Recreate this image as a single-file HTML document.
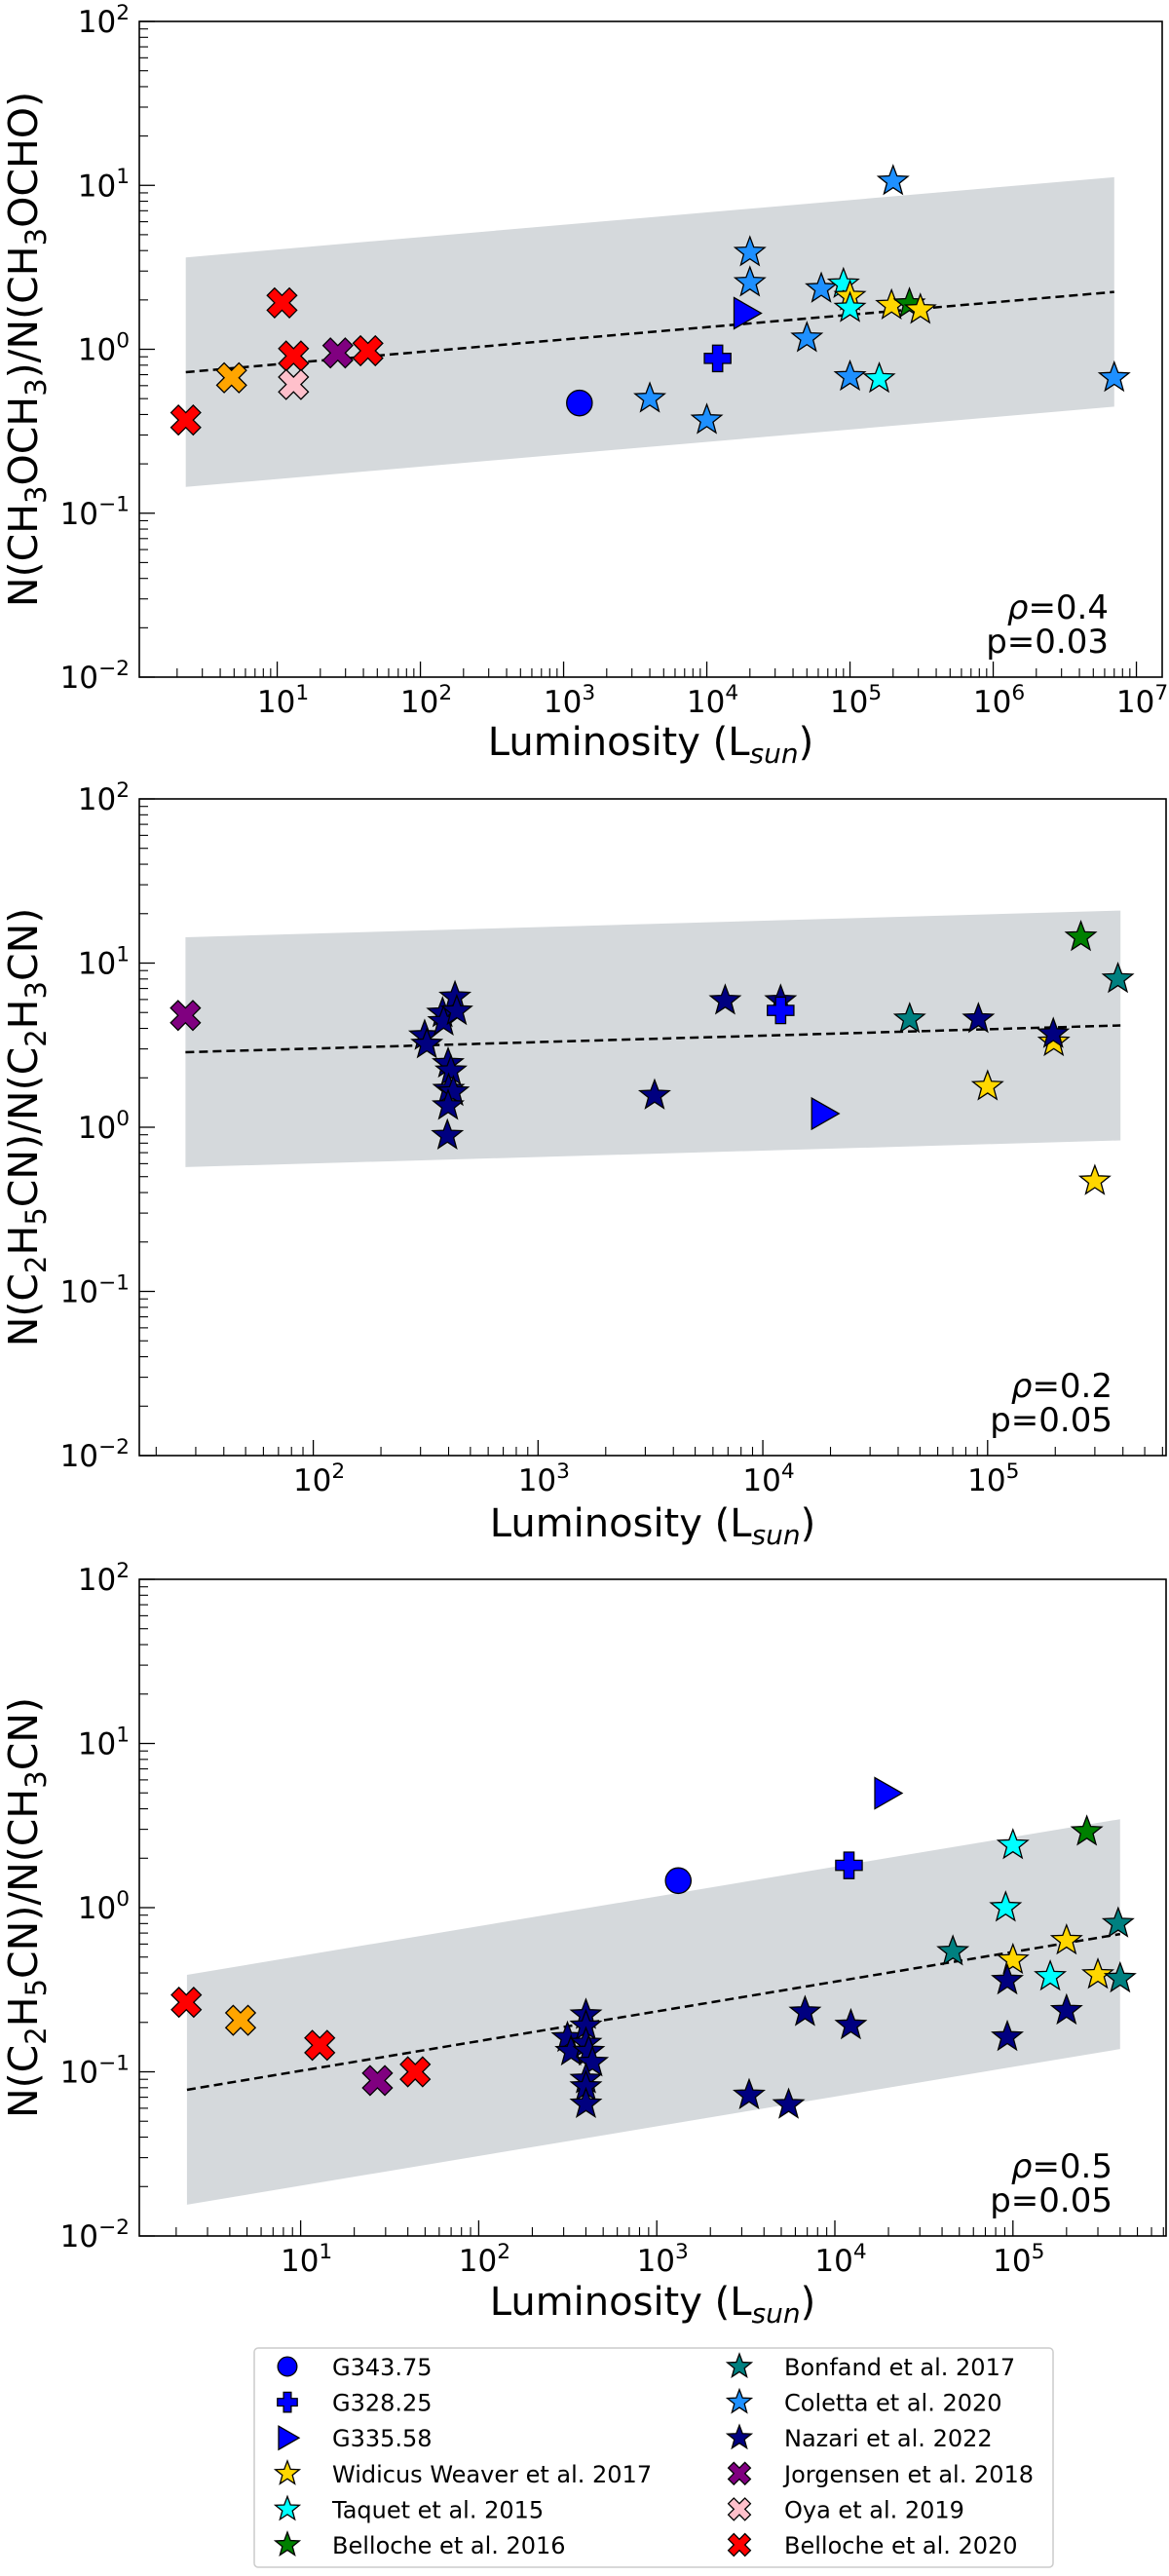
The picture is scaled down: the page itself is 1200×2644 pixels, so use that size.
<!DOCTYPE html>
<html><head><meta charset="utf-8">
<style>
html,body{margin:0;padding:0;background:#fff;}
svg{display:block;font-family:"DejaVu Sans","Liberation Sans",sans-serif;}
</style></head>
<body>
<svg id="fig" width="1200" height="2644" viewBox="0 0 1200 2644" xmlns="http://www.w3.org/2000/svg"></svg>
<script>
// ---------- Panel 1 data: N(CH3OCH3)/N(CH3OCHO) ----------
const p1Source = ["belloche20","other","belloche20","belloche20","oya","jorgensen","belloche20","g343","coletta","coletta","g328","g335","coletta","coletta","coletta","coletta","taquet","widicus","taquet","coletta","taquet","coletta","widicus","belloche16","widicus","coletta"];
const p1Lum    = [2.3,4.8,10.8,13,13,26.5,43,1290,4000,1e4,11900,18700,2e4,2e4,5e4,6.3e4,9e4,1e5,1e5,1e5,1.6e5,2e5,1.95e5,2.6e5,3.1e5,7e6];
const p1Ratio  = [0.37,0.67,1.92,0.91,0.61,0.95,0.98,0.47,0.50,0.37,0.88,1.66,3.9,2.55,1.17,2.34,2.5,2.1,1.78,0.68,0.66,10.6,1.85,1.89,1.74,0.67];
const p1Fit = [-0.167, 0.0755];
const p1FitRange = [2.3, 7e6];
const p1Stats = ["0.4","p=0.03"];

// ---------- Panel 2 data: N(C2H5CN)/N(C2H3CN) ----------
const p2Source = ["jorgensen","nazari","nazari","nazari","nazari","nazari","nazari","nazari","nazari","nazari","nazari","nazari","nazari","nazari","nazari","nazari","g328","g335","bonfand","nazari","widicus","widicus","nazari","belloche16","widicus","bonfand"];
const p2Lum    = [27,313,320,376,380,427,435,398,410,400,420,398,395,3300,6800,12000,12000,18600,45000,9.1e4,1e5,1.97e5,1.96e5,2.6e5,3e5,3.8e5];
const p2Ratio  = [4.8,3.6,3.2,4.95,4.4,6.2,5.1,2.44,2.2,1.7,1.64,1.35,0.89,1.56,5.9,5.9,5.15,1.21,4.56,4.56,1.77,3.3,3.7,14.4,0.47,8.0];
const p2Fit = [0.401, 0.0392];
const p2FitRange = [27, 3.9e5];
const p2Stats = ["0.2","p=0.05"];

// ---------- Panel 3 data: N(C2H5CN)/N(CH3CN) ----------
const p3Source = ["belloche20","other","belloche20","jorgensen","belloche20","g343","g328","g335","taquet","belloche16","taquet","bonfand","bonfand","widicus","widicus","taquet","widicus","bonfand","nazari","nazari","nazari","nazari","nazari","nazari","nazari","nazari","nazari","nazari","nazari","nazari","nazari","nazari","nazari","nazari","nazari"];
const p3Lum    = [2.28,4.6,12.8,27,44,1320,12000,19500,1e5,2.6e5,9.1e4,3.9e5,4.6e4,2e5,1e5,1.62e5,3e5,4e5,9.3e4,9.3e4,2e5,6800,12300,3300,5500,315,330,400,400,400,415,435,400,400,400];
const p3Ratio  = [0.265,0.206,0.145,0.0885,0.1,1.46,1.81,4.98,2.4,2.9,1.0,0.8,0.54,0.63,0.48,0.38,0.39,0.37,0.36,0.163,0.236,0.231,0.192,0.072,0.063,0.161,0.133,0.222,0.19,0.149,0.133,0.114,0.09,0.081,0.0636];
const p3Fit = [-1.175, 0.181];
const p3FitRange = [2.3, 4e5];
const p3Stats = ["0.5","p=0.05"];

const bandHalfWidth = 0.7; // dex

// ---------- Legend ----------
const legendLeft  = ["g343","g328","g335","widicus","taquet","belloche16"];
const legendRight = ["bonfand","coletta","nazari","jorgensen","oya","belloche20"];
const legendLabels = {g343:"G343.75",g328:"G328.25",g335:"G335.58",widicus:"Widicus Weaver et al. 2017",taquet:"Taquet et al. 2015",belloche16:"Belloche et al. 2016",bonfand:"Bonfand et al. 2017",coletta:"Coletta et al. 2020",nazari:"Nazari et al. 2022",jorgensen:"Jorgensen et al. 2018",oya:"Oya et al. 2019",belloche20:"Belloche et al. 2020"};

const STYLE = {
  g343:{m:"circle",c:"#0000ff"}, g328:{m:"plus",c:"#0000ff"}, g335:{m:"tri",c:"#0000ff"},
  widicus:{m:"star",c:"#ffd700"}, taquet:{m:"star",c:"#00ffff"}, belloche16:{m:"star",c:"#008000"},
  bonfand:{m:"star",c:"#008080"}, coletta:{m:"star",c:"#1e90ff"}, nazari:{m:"star",c:"#000080"},
  jorgensen:{m:"x",c:"#800080"}, oya:{m:"x",c:"#ffc0cb"}, belloche20:{m:"x",c:"#ff0000"}, other:{m:"x",c:"#ffa500"}
};

const NS="http://www.w3.org/2000/svg";
const svg=document.getElementById("fig");
function mk(tag,attrs,parent){const e=document.createElementNS(NS,tag);for(const k in attrs)e.setAttribute(k,attrs[k]);(parent||svg).appendChild(e);return e;}

function markerPath(m,s){
  if(m==="star"){let p=[];for(let i=0;i<10;i++){const r=i%2?s*0.42:s;const a=-Math.PI/2+i*Math.PI/5;p.push((r*Math.cos(a)).toFixed(2)+","+(r*Math.sin(a)).toFixed(2));}return "M"+p.join("L")+"Z";}
  if(m==="x"){const q=[[-1,-0.5],[-0.5,-1],[0,-0.5],[0.5,-1],[1,-0.5],[0.5,0],[1,0.5],[0.5,1],[0,0.5],[-0.5,1],[-1,0.5],[-0.5,0]];return "M"+q.map(v=>(v[0]*s*0.95).toFixed(2)+","+(v[1]*s*0.95).toFixed(2)).join("L")+"Z";}
  if(m==="plus"){const a=0.38,q=[[-a,-1],[a,-1],[a,-a],[1,-a],[1,a],[a,a],[a,1],[-a,1],[-a,a],[-1,a],[-1,-a],[-a,-a]];return "M"+q.map(v=>(v[0]*s*0.85).toFixed(2)+","+(v[1]*s*0.85).toFixed(2)).join("L")+"Z";}
  if(m==="tri"){return "M"+(-0.75*s)+","+(-s)+"L"+s+",0L"+(-0.75*s)+","+s+"Z";}
  return "";
}
function drawMarker(g,src,cx,cy,s){
  const st=STYLE[src];
  let e;
  if(st.m==="circle"){e=mk("circle",{cx:cx,cy:cy,r:s*0.82,fill:st.c,stroke:"#000","stroke-width":1.3},g);}
  else{e=mk("path",{d:markerPath(st.m,s),transform:"translate("+cx.toFixed(2)+","+cy.toFixed(2)+")",fill:st.c,stroke:"#000","stroke-width":1.3,"stroke-linejoin":"miter"},g);}
  return e;
}
function tickLabel(g,x,y,exp,anchor,size){
  const t=mk("text",{x:x,y:y,"text-anchor":anchor,"font-size":size,fill:"#000"},g);
  t.appendChild(document.createTextNode("10"));
  const sp=mk("tspan",{dy:-size*0.42,"font-size":size*0.7},t);
  sp.textContent=exp<0?"\u2212"+(-exp):String(exp);
  return t;
}

function panel(cfg){
  const g=mk("g",{});
  
  
  const {x0,x1,y0,y1,lmin,lmax}=cfg;
  const X=L=>x0+(Math.log10(L)-lmin)/(lmax-lmin)*(x1-x0);
  const Y=v=>y1-(Math.log10(v)+2)/4*(y1-y0);
  const fitY=L=>Math.pow(10,cfg.fit[0]+cfg.fit[1]*Math.log10(L));
  const [a,b]=cfg.range;
  const band=mk("polygon",{points:[[X(a),Y(fitY(a)*Math.pow(10,bandHalfWidth))],[X(b),Y(fitY(b)*Math.pow(10,bandHalfWidth))],[X(b),Y(fitY(b)/Math.pow(10,bandHalfWidth))],[X(a),Y(fitY(a)/Math.pow(10,bandHalfWidth))]].map(p=>p[0].toFixed(1)+","+p[1].toFixed(1)).join(" "),fill:"#d5d9dc"},g);
  
  
  const fl=mk("line",{x1:X(a),y1:Y(fitY(a)),x2:X(b),y2:Y(fitY(b)),stroke:"#000","stroke-width":2.5,"stroke-dasharray":"9,5"},g);
  
  
  for(let i=0;i<cfg.lum.length;i++){
    const m=drawMarker(g,cfg.src[i],X(cfg.lum[i]),Y(cfg.ratio[i]),16);
    
    
  }
  const fr=mk("rect",{x:x0,y:y0,width:x1-x0,height:y1-y0,fill:"none",stroke:"#000","stroke-width":1.6},g);
  
  
  const ya=mk("g",{},g);
  
  
  for(let e=-2;e<=2;e++){
    const yy=Y(Math.pow(10,e));
    mk("line",{x1:x0,y1:yy,x2:x0+16,y2:yy,stroke:"#000","stroke-width":1.3},ya);
    const tl=tickLabel(ya,x0-10,yy+11,e,"end",31);
    
    
    if(e<2)for(let k=2;k<=9;k++){const ym=Y(k*Math.pow(10,e));mk("line",{x1:x0,y1:ym,x2:x0+9,y2:ym,stroke:"#000","stroke-width":1.1},ya);}
  }
  const xa=mk("g",{},g);
  
  
  for(let e=Math.floor(lmin);e<=Math.ceil(lmax);e++){
    for(let k=1;k<=9;k++){
      const lv=Math.log10(k)+e; if(lv<lmin||lv>lmax)continue;
      const xx=X(k*Math.pow(10,e));
      mk("line",{x1:xx,y1:y1,x2:xx,y2:y1-(k===1?16:9),stroke:"#000","stroke-width":k===1?1.3:1.1},xa);
      if(k===1){const tl=tickLabel(xa,xx+6,y1+36,e,"middle",31);
        
        }
    }
  }
  const xt=mk("text",{x:(x0+x1)/2,y:cfg.xTitleY,"text-anchor":"middle","font-size":40},g);
  
  
  xt.appendChild(document.createTextNode("Luminosity (L"));
  const sub=mk("tspan",{dy:8,"font-size":28,"font-style":"italic"},xt);sub.textContent="sun";
  const cl=mk("tspan",{dy:-8},xt);cl.textContent=")";
  const cy=(y0+y1)/2;
  const yt=mk("text",{x:0,y:0,"text-anchor":"middle","font-size":41,transform:"translate(38,"+cy+") rotate(-90)"},g);
  
  
  cfg.yTitle.forEach(p=>{const s=mk("tspan",p[1]?{dy:p[1],"font-size":p[2]||41}:{},yt);s.textContent=p[0];});
  const s1=mk("text",{x:x1-55,y:y1-60,"text-anchor":"end","font-size":34},g);
  const rho=mk("tspan",{"font-style":"italic"},s1);rho.textContent="ρ";
  const rv=mk("tspan",{},s1);rv.textContent="="+cfg.stats[0];
  
  
  const s2=mk("text",{x:x1-55,y:y1-25,"text-anchor":"end","font-size":34},g);s2.textContent=cfg.stats[1];
  
  
}
panel({name:"panel-dimethyl-ether",x0:143,x1:1193,y0:22,y1:695,lmin:0.037,lmax:7.18,lum:p1Lum,ratio:p1Ratio,src:p1Source,fit:p1Fit,range:p1FitRange,stats:p1Stats,xTitleY:775,
  yTitle:[["N(CH"],["3",9,29],["OCH",-9,41],["3",9,29],[")/N(CH",-9,41],["3",9,29],["OCHO)",-9,41]]});
panel({name:"panel-ethyl-vinyl-cyanide",x0:143,x1:1197,y0:820,y1:1494,lmin:1.226,lmax:5.794,lum:p2Lum,ratio:p2Ratio,src:p2Source,fit:p2Fit,range:p2FitRange,stats:p2Stats,xTitleY:1577,
  yTitle:[["N(C"],["2",9,29],["H",-9,41],["5",9,29],["CN)/N(C",-9,41],["2",9,29],["H",-9,41],["3",9,29],["CN)",-9,41]]});
panel({name:"panel-ethyl-methyl-cyanide",x0:143,x1:1197,y0:1621,y1:2295,lmin:0.094,lmax:5.86,lum:p3Lum,ratio:p3Ratio,src:p3Source,fit:p3Fit,range:p3FitRange,stats:p3Stats,xTitleY:2376,
  yTitle:[["N(C"],["2",9,29],["H",-9,41],["5",9,29],["CN)/N(CH",-9,41],["3",9,29],["CN)",-9,41]]});

const lg=mk("g",{});


mk("rect",{x:261,y:2410,width:820,height:225,rx:4,fill:"#fff",stroke:"#cccccc","stroke-width":1.5},lg);
[[legendLeft,295,341],[legendRight,759,805]].forEach(col=>{
  col[0].forEach((k,i)=>{
    const yy=2429+i*36.6;
    const e=mk("g",{},lg);
    
    
    drawMarker(e,k,col[1],yy,STYLE[k].m==="star"?13:12);
    const t=mk("text",{x:col[2],y:yy+9,"font-size":24},e);t.textContent=legendLabels[k];
  });
});
</script>
</body></html>
